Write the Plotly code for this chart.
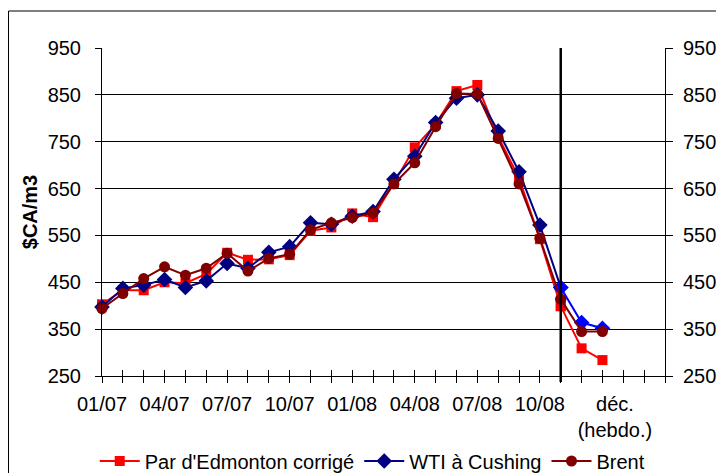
import plotly.graph_objects as go

# ---------------- data ----------------
months = ["01/07", "02/07", "03/07", "04/07", "05/07", "06/07", "07/07", "08/07",
          "09/07", "10/07", "11/07", "12/07", "01/08", "02/08", "03/08", "04/08",
          "05/08", "06/08", "07/08", "08/08", "09/08", "10/08", "11/08"]
weeks = ["déc. S1", "déc. S2"]
empty_slots = ["", "", ""]

edmonton_monthly = [403, 433, 433, 450, 448, 468, 513, 498, 499, 508, 560, 567,
                    597, 589, 662, 738, 787, 858, 871, 761, 672, 542, 399]
edmonton_weekly = [309, 284]

wti_monthly = [397, 437, 444, 456, 439, 453, 490, 480, 514, 526, 577, 574,
               591, 601, 670, 719, 791, 843, 850, 773, 686, 572, 439]
wti_weekly = [364, 352]

brent_monthly = [394, 426, 458, 483, 465, 480, 512, 474, 501, 510, 562, 577,
                 588, 598, 660, 705, 782, 853, 852, 757, 660, 544, 414]
brent_weekly = [345, 345]

tick_labels = ["01/07", "04/07", "07/07", "10/07", "01/08", "04/08", "07/08", "10/08"]
weekly_label = "déc.<br>(hebdo.)"

# ---------------- positions derived from categories ----------------
categories = months + weeks + empty_slots
x_month = list(range(len(months)))
last_month = len(months) - 1
x_week = [last_month] + [len(months) + i for i in range(len(weeks))]
x_max = len(categories) - 1

FONT = "Liberation Sans, Arial, sans-serif"
FS = 20

# figure geometry (page body adds an 8px offset)
W, H = 716, 465
ML, MR, MT, MB = 94, 59, 40, 97
PW, PH = W - ML - MR, H - MT - MB

fig = go.Figure()

series = [
    ("Par d'Edmonton corrigé", edmonton_monthly, edmonton_weekly, "#FF0000", "#FF0000", "square", 10),
    ("WTI à Cushing", wti_monthly, wti_weekly, "#000080", "#0000FF", "diamond", 12),
    ("Brent", brent_monthly, brent_weekly, "#800000", "#800000", "circle", 11),
]

for name, monthly, weekly, col_m, col_w, sym, size in series:
    fig.add_trace(go.Scatter(
        x=x_month, y=monthly, name=name, mode="lines+markers",
        line=dict(color=col_m, width=2),
        marker=dict(symbol=sym, size=size, color=col_m),
        cliponaxis=False, legendgroup=name,
    ))
    fig.add_trace(go.Scatter(
        x=x_week, y=[monthly[-1]] + weekly, name=name, mode="lines+markers",
        line=dict(color=col_w, width=2),
        marker=dict(symbol=sym, size=size, color=col_w),
        cliponaxis=False, legendgroup=name, showlegend=False,
    ))

label_vals = [months.index(t) for t in tick_labels] + [len(months) + 1.6]
label_text = tick_labels + [weekly_label]

fig.update_layout(
    width=W, height=H,
    margin=dict(l=ML, r=MR, t=MT, b=MB, autoexpand=False),
    paper_bgcolor="white", plot_bgcolor="white",
    font=dict(family=FONT, size=FS, color="black"),
    showlegend=True,
    legend=dict(orientation="h", x=0.48, xanchor="center", y=-(453 - 368) / PH, yanchor="middle",
                font=dict(size=FS), itemwidth=40, tracegroupgap=0,
                bgcolor="rgba(0,0,0,0)"),
    xaxis=dict(range=[0, x_max], tickmode="array", tickvals=label_vals, ticktext=label_text,
               ticks="", showline=False, showgrid=False, zeroline=False, automargin=False,
               tickfont=dict(size=FS), ticklabelstandoff=14),
    xaxis2=dict(range=[0, x_max], overlaying="x", anchor="y", side="bottom",
                tickmode="linear", tick0=0, dtick=1, ticks="outside", ticklen=6,
                tickcolor="black", tickwidth=1, showticklabels=False, automargin=False,
                showline=True, linecolor="black", linewidth=1, showgrid=False, zeroline=False),
    xaxis3=dict(range=[0, x_max], overlaying="x", anchor="y", side="bottom",
                tickmode="linear", tick0=0, dtick=1, ticks="inside", ticklen=6,
                tickcolor="black", tickwidth=1, showticklabels=False, automargin=False,
                showline=False, showgrid=False, zeroline=False),
    yaxis=dict(range=[250, 950], tickmode="linear", tick0=250, dtick=100,
               ticks="outside", ticklen=6, tickcolor="black", automargin=False,
               showline=True, linecolor="black", linewidth=1,
               showgrid=True, gridcolor="black", gridwidth=1, zeroline=False,
               tickfont=dict(size=FS), ticklabelstandoff=10,
               title=dict(text="<b>$CA/m3</b>", font=dict(size=FS), standoff=4)),
    yaxis2=dict(range=[250, 950], overlaying="y", side="right", anchor="x",
                tickmode="linear", tick0=250, dtick=100, automargin=False,
                ticks="outside", ticklen=7, tickcolor="black",
                showline=True, linecolor="black", linewidth=1,
                showgrid=False, zeroline=False, tickfont=dict(size=FS),
                ticklabelstandoff=6),
)

# invisible traces to activate overlay axes
fig.add_trace(go.Scatter(x=[0], y=[None], xaxis="x2", showlegend=False, hoverinfo="skip"))
fig.add_trace(go.Scatter(x=[0], y=[None], xaxis="x3", showlegend=False, hoverinfo="skip"))
fig.add_trace(go.Scatter(x=[0], y=[None], yaxis="y2", showlegend=False, hoverinfo="skip"))

# vertical separator between monthly and weekly data
fig.add_shape(type="line", xref="x", yref="y domain", x0=last_month, x1=last_month,
              y0=-0.018, y1=1, line=dict(color="black", width=2.5))

# outer chart frame
fig.add_shape(type="rect", xref="paper", yref="paper",
              x0=(0.5 - ML) / PW, x1=1.3, y0=-0.5, y1=(MT + PH - 3) / PH,
              line=dict(color="black", width=1), layer="below")

fig.write_html("out.html")
